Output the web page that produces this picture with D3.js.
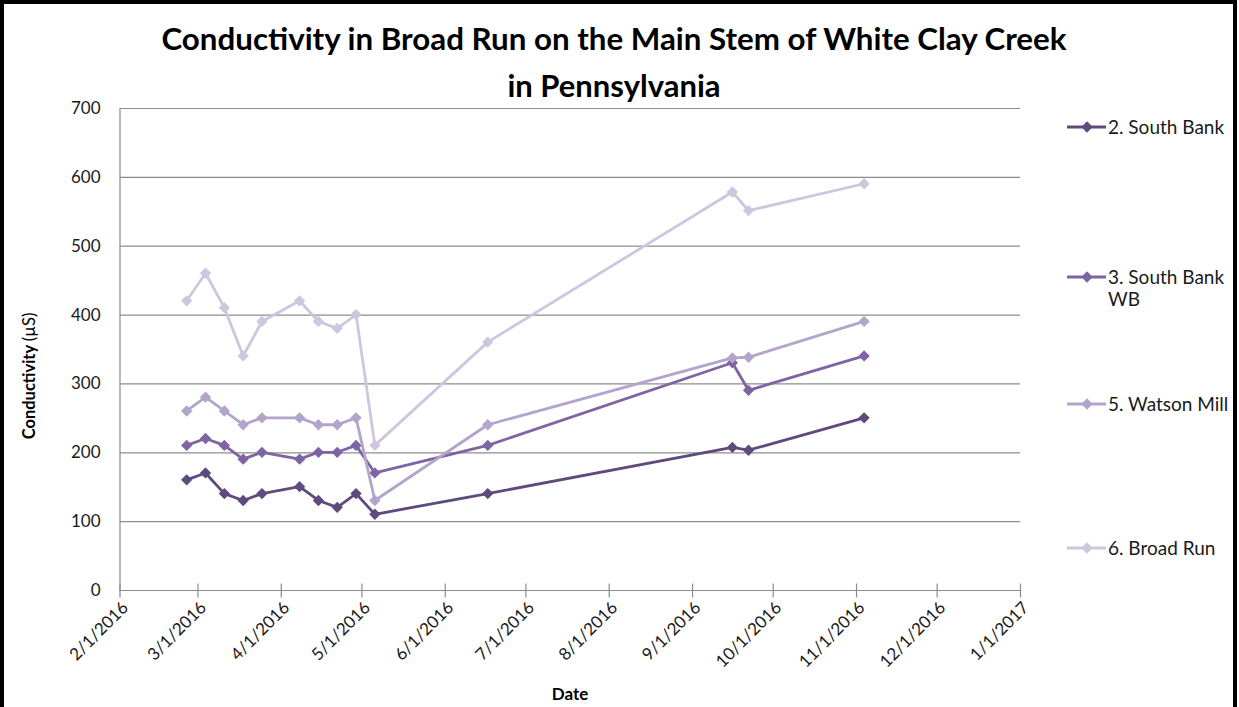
<!DOCTYPE html>
<html>
<head>
<meta charset="utf-8">
<script src="https://cdn.jsdelivr.net/npm/d3@7"></script>
<style>
  html, body { margin: 0; padding: 0; background: #fff; }
  svg { display: block; }
</style>
</head>
<body>
<svg id="chart" width="1239" height="707"></svg>
<script>
// ---------- DATA ----------
const dates = ["2016-02-26","2016-03-04","2016-03-11","2016-03-18","2016-03-25","2016-04-08","2016-04-15",
               "2016-04-22","2016-04-29","2016-05-06","2016-06-17","2016-09-16","2016-09-22","2016-11-04"];
const seriesNames = ["2. South Bank", "3. South Bank WB", "5. Watson Mill", "6. Broad Run"];
const southBank   = [160,170,140,130,140,150,130,120,140,110,140,207,203,250];
const southBankWB = [210,220,210,190,200,190,200,200,210,170,210,330,290,340];
const watsonMill  = [260,280,260,240,250,250,240,240,250,130,240,337,338,390];
const broadRun    = [420,460,410,340,390,420,390,380,400,210,360,578,551,590];
const seriesColors = ["#5F4A7E", "#7E64A3", "#B3A4CB", "#CEC6DF"];
const yTicks = [0,100,200,300,400,500,600,700];
const xTickLabels = ["2/1/2016","3/1/2016","4/1/2016","5/1/2016","6/1/2016","7/1/2016","8/1/2016",
                     "9/1/2016","10/1/2016","11/1/2016","12/1/2016","1/1/2017"];
const titleLines = ["Conductivity in Broad Run on the Main Stem of White Clay Creek", "in Pennsylvania"];

// ---------- SETUP ----------
const svg = d3.select("#chart");
const parseISO = d3.timeParse("%Y-%m-%d");
const parseMDY = d3.timeParse("%m/%d/%Y");
const xTickDates = xTickLabels.map(parseMDY);
const allValues = [southBank, southBankWB, watsonMill, broadRun];
const series = seriesNames.map((n, i) => ({
  name: n, color: seriesColors[i],
  points: dates.map((d, j) => ({ date: parseISO(d), value: allValues[i][j] }))
}));

const x = d3.scaleTime().domain([xTickDates[0], xTickDates[xTickDates.length - 1]]).range([119.5, 1020]);
const y = d3.scaleLinear().domain([0, 700]).range([590, 108]);
const font = "Lato, 'Open Sans', sans-serif";
const gridColor = "#8C8C8C";

// frame border
svg.append("path").attr("d", "M2,707 V2 H1235 V707").attr("fill", "none").attr("stroke", "#000").attr("stroke-width", 4);

// title
svg.append("g").selectAll("text").data(titleLines).join("text")
  .attr("x", 614).attr("y", (d, i) => 50 + i * 47)
  .attr("text-anchor", "middle")
  .attr("font-family", font).attr("font-weight", "bold").attr("font-size", 31)
  .attr("fill", "#000")
  .each(function(d, i) { if (i === 0) d3.select(this).attr("textLength", 905).attr("lengthAdjust", "spacingAndGlyphs"); })
  .text(d => d);

// gridlines
svg.append("g").selectAll("line").data(yTicks.filter(v => v > 0)).join("line")
  .attr("x1", x.range()[0]).attr("x2", x.range()[1])
  .attr("y1", d => y(d) + 0.5).attr("y2", d => y(d) + 0.5)
  .attr("stroke", gridColor).attr("stroke-width", 1.2);

// y axis
const yAxis = svg.append("g").attr("transform", `translate(${x.range()[0]},0)`)
  .call(d3.axisLeft(y).tickValues(yTicks).tickSize(0).tickPadding(19).tickFormat(d3.format("d")));
yAxis.select(".domain").attr("stroke", gridColor).attr("stroke-width", 1.2);
yAxis.selectAll("text").attr("font-family", font).attr("font-size", 17).attr("fill", "#1a1a1a");

// x axis
const xAxis = svg.append("g").attr("transform", `translate(0,${y(0) + 0.5})`)
  .call(d3.axisBottom(x).tickValues(xTickDates).tickSize(7).tickFormat((d, i) => xTickLabels[i]));
xAxis.select(".domain").attr("stroke", gridColor).attr("stroke-width", 1.2).attr("d", `M${x.range()[0]},0H${x.range()[1]}`);
xAxis.selectAll(".tick line").attr("stroke", gridColor).attr("stroke-width", 1.2).attr("y1", -7).attr("y2", 7);
xAxis.selectAll(".tick text")
  .attr("font-family", font).attr("font-size", 17).attr("fill", "#1a1a1a")
  .attr("text-anchor", "end")
  .attr("transform", "translate(5,14) rotate(-45)")
  .attr("x", 0).attr("y", 0).attr("dy", "0.35em");

// axis titles
svg.append("text").attr("x", 570).attr("y", 700).attr("text-anchor", "middle")
  .attr("font-family", font).attr("font-weight", "bold").attr("font-size", 17).attr("fill", "#000").text("Date");
const yt = svg.append("text").attr("transform", "translate(35,376) rotate(-90)").attr("text-anchor", "middle")
  .attr("font-family", font).attr("font-size", 16.5).attr("fill", "#000");
yt.append("tspan").attr("font-weight", "bold").text("Conductivity ");
yt.append("tspan").text("(µS)");

// lines & markers
const line = d3.line().x(d => x(d.date)).y(d => y(d.value));
const diamond = d3.symbol().type(d3.symbolSquare).size(64);
const sg = svg.append("g").selectAll("g").data(series).join("g");
sg.append("path").attr("d", d => line(d.points)).attr("fill", "none")
  .attr("stroke", d => d.color).attr("stroke-width", 2.8).attr("stroke-linejoin", "round");
sg.each(function(s) {
  d3.select(this).selectAll("path.m").data(s.points).join("path").attr("class", "m")
    .attr("d", diamond)
    .attr("transform", d => `translate(${x(d.date)},${y(d.value)}) rotate(45)`)
    .attr("fill", s.color);
});

// legend
const legendRows = [
  { lines: ["2. South Bank"], y: 127 },
  { lines: ["3. South Bank", "WB"], y: 277 },
  { lines: ["5. Watson Mill"], y: 404 },
  { lines: ["6. Broad Run"], y: 548 }
];
const lg = svg.append("g").selectAll("g").data(series).join("g")
  .attr("transform", (d, i) => `translate(0,${legendRows[i].y})`);
lg.append("line").attr("x1", 1067).attr("x2", 1106).attr("y1", 0).attr("y2", 0)
  .attr("stroke", d => d.color).attr("stroke-width", 2.8);
lg.append("path").attr("d", diamond).attr("transform", "translate(1087,0) rotate(45)").attr("fill", d => d.color);
lg.each(function(s, i) {
  d3.select(this).selectAll("text").data(legendRows[i].lines).join("text")
    .attr("x", 1108).attr("y", (d, k) => k * 22).attr("dy", "0.35em")
    .attr("font-family", font).attr("font-size", 19).attr("fill", "#1a1a1a")
    .text(d => d);
});
</script>
</body>
</html>
